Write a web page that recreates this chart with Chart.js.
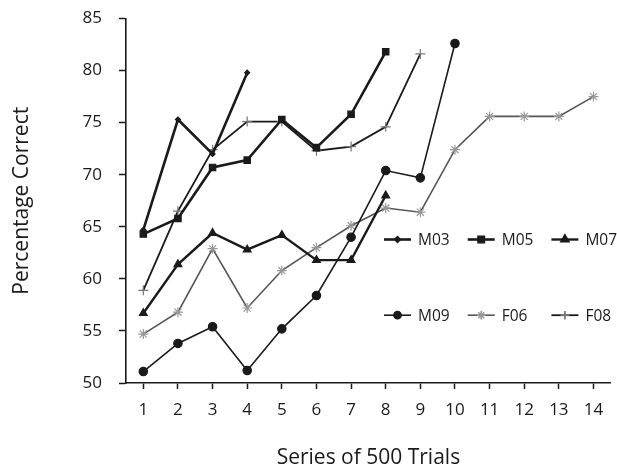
<!DOCTYPE html>
<html>
<head>
<meta charset="utf-8">
<script src="https://cdn.jsdelivr.net/npm/chart.js@4.4.1/dist/chart.umd.min.js"></script>
<style>
  html, body { margin: 0; padding: 0; background: #fff; }
  #wrap { width: 617px; height: 469px; }
</style>
</head>
<body>
<div id="wrap"><canvas id="chart" width="617" height="469"></canvas></div>
<script>
const trials = ["1", "2", "3", "4", "5", "6", "7", "8", "9", "10", "11", "12", "13", "14"];

const m03 = [64.7, 75.3, 72.0, 79.8];
const m05 = [64.3, 65.8, 70.7, 71.4, 75.3, 72.6, 75.8, 81.8];
const m07 = [56.7, 61.4, 64.4, 62.8, 64.2, 61.8, 61.8, 68.0];
const m09 = [51.1, 53.8, 55.4, 51.2, 55.2, 58.4, 64.0, 70.4, 69.7, 82.6];
const f06 = [54.7, 56.8, 62.9, 57.2, 60.8, 63.0, 65.1, 66.8, 66.4, 72.4, 75.6, 75.6, 75.6, 77.5];
const f08 = [58.9, 66.5, 72.4, 75.1, 75.1, 72.3, 72.7, 74.6, 81.6];

const FONT = "'Open Sans', 'Noto Sans', sans-serif";
const ink = "#1a1a1a";

function series(label, data, style, radius, width, color, pointColor) {
  return {
    label: label,
    data: data,
    borderColor: color,
    backgroundColor: pointColor,
    borderWidth: width,
    pointStyle: style,
    pointRadius: radius,
    pointBorderColor: pointColor,
    pointBackgroundColor: pointColor,
    pointBorderWidth: 1.2,
    tension: 0,
    spanGaps: false
  };
}

const datasets = [
  series("M03", m03, "rectRot", 2.5, 2.6, ink, ink),
  series("M05", m05, "rect", 4.5, 2.6, ink, ink),
  series("M07", m07, "triangle", 4.5, 2.4, ink, ink),
  series("M09", m09, "circle", 4.2, 1.6, ink, ink),
  series("F06", f06, "star", 5, 1.6, "#555", "#999"),
  series("F08", f08, "cross", 5, 1.8, ink, "#777")
];

// legend drawn inside the plot, two rows of three
const legendPlugin = {
  id: "innerLegend",
  afterDraw(chart) {
    const ctx = chart.ctx;
    const x0 = 384, y0 = 239.5, dx = 83.7, dy = 75.7;
    chart.data.datasets.forEach((ds, i) => {
      const x = x0 + (i % 3) * dx;
      const y = y0 + Math.floor(i / 3) * dy;
      ctx.save();
      ctx.strokeStyle = ds.borderColor;
      ctx.lineWidth = ds.borderWidth;
      ctx.beginPath();
      ctx.moveTo(x, y);
      ctx.lineTo(x + 27, y);
      ctx.stroke();
      ctx.fillStyle = ds.pointBackgroundColor;
      ctx.strokeStyle = ds.pointBorderColor;
      Chart.helpers.drawPoint(ctx, {
        pointStyle: ds.pointStyle,
        radius: ds.pointRadius * 0.85,
        rotation: 0,
        borderWidth: 1.2
      }, x + 13.5, y);
      ctx.fillStyle = ink;
      ctx.font = "15.5px " + FONT;
      ctx.textBaseline = "middle";
      ctx.textAlign = "left";
      ctx.fillText(ds.label, x + 34, y + 1);
      ctx.restore();
    });
  }
};

new Chart(document.getElementById("chart").getContext("2d"), {
  type: "line",
  data: { labels: trials, datasets: datasets },
  plugins: [legendPlugin],
  options: {
    responsive: false,
    animation: false,
    layout: { padding: { left: 0, right: 0, top: 18.5, bottom: 0 } },
    plugins: {
      legend: { display: false },
      tooltip: { enabled: false }
    },
    scales: {
      x: {
        offset: true,
        afterFit(scale) {
          scale.height = 86;
          scale.paddingLeft = 0;
          scale.paddingRight = 0;
        },
        grid: { drawOnChartArea: false, drawTicks: true, tickLength: 6, tickWidth: 1.5, color: ink },
        border: { display: true, color: ink, width: 1.6 },
        ticks: { color: ink, padding: 11, font: { family: FONT, size: 17 }, maxRotation: 0, autoSkip: false },
        title: { display: true, text: "Series of 500 Trials", color: ink, font: { family: FONT, size: 21, lineHeight: 1 }, padding: { top: 0, bottom: 0 } }
      },
      y: {
        min: 50,
        max: 85,
        afterFit(scale) {
          scale.width = 126;
          scale.paddingTop = 0;
          scale.paddingBottom = 0;
        },
        grid: { drawOnChartArea: false, drawTicks: true, tickLength: 7, tickWidth: 1.5, color: ink },
        border: { display: true, color: ink, width: 1.6 },
        ticks: { stepSize: 5, color: ink, padding: 17, font: { family: FONT, size: 17 } },
        title: { display: true, text: "Percentage Correct", color: ink, font: { family: FONT, size: 21, lineHeight: 1 }, padding: { top: 11.5, bottom: 0 } }
      }
    }
  }
});
</script>
</body>
</html>
